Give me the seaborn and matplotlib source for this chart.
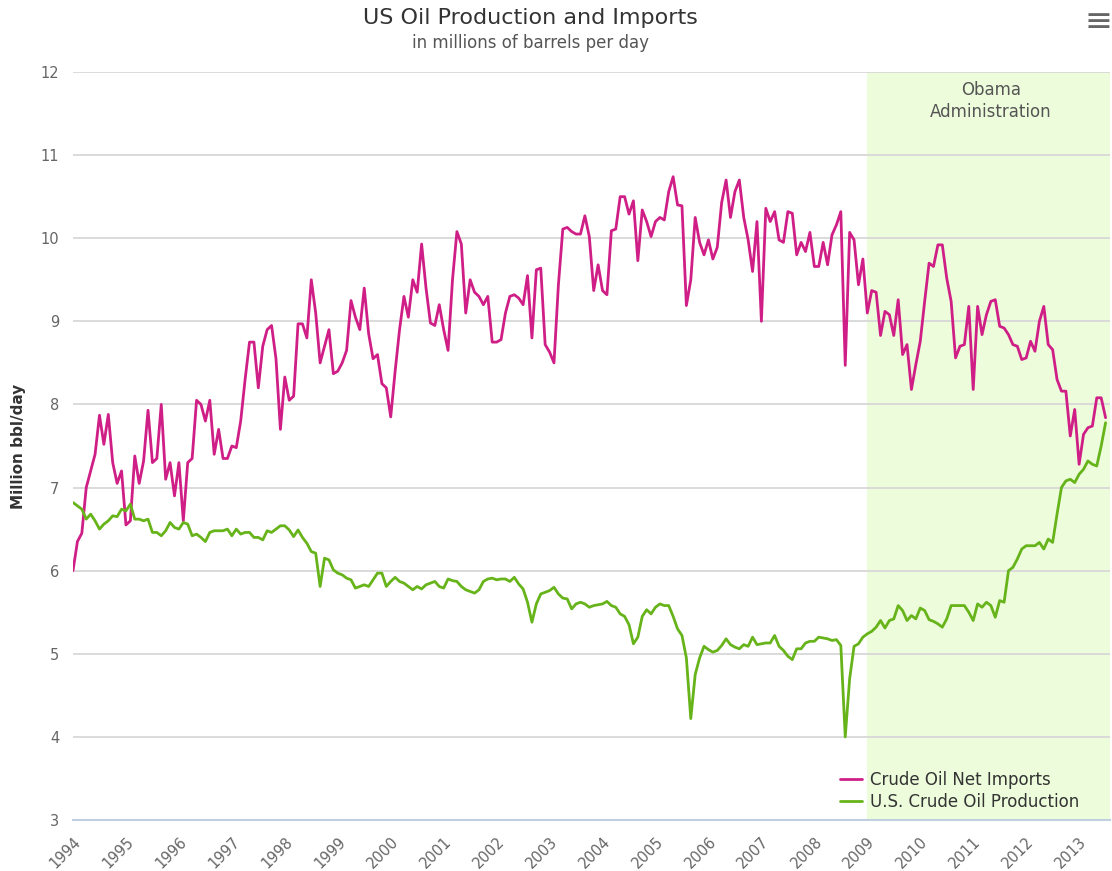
import numpy as np
import pandas as pd
import seaborn as sns
import matplotlib.pyplot as plt

# monthly values, Jan 1994 .. Jul 2013 (one row per year)
net_imports = [
    6.0, 6.35, 6.45, 7.0, 7.2, 7.4, 7.87, 7.52, 7.88, 7.3, 7.05, 7.2,
    6.55, 6.6, 7.38, 7.05, 7.32, 7.93, 7.3, 7.35, 8.0, 7.1, 7.3, 6.9,
    7.3, 6.6, 7.3, 7.35, 8.05, 8.0, 7.8, 8.05, 7.4, 7.7, 7.35, 7.35,
    7.5, 7.48, 7.8, 8.3, 8.75, 8.75, 8.2, 8.7, 8.9, 8.95, 8.55, 7.7,
    8.33, 8.05, 8.1, 8.97, 8.97, 8.8, 9.5, 9.1, 8.5, 8.7, 8.9, 8.37,
    8.4, 8.5, 8.65, 9.25, 9.05, 8.9, 9.4, 8.85, 8.55, 8.6, 8.25, 8.2,
    7.85, 8.4, 8.9, 9.3, 9.05, 9.5, 9.35, 9.93, 9.4, 8.98, 8.95, 9.2,
    8.9, 8.65, 9.5, 10.08, 9.93, 9.1, 9.5, 9.35, 9.3, 9.2, 9.3, 8.75,
    8.75, 8.78, 9.1, 9.3, 9.32, 9.28, 9.2, 9.55, 8.8, 9.62, 9.64, 8.72,
    8.63, 8.5, 9.44, 10.11, 10.13, 10.08, 10.05, 10.05, 10.27, 10.02, 9.37, 9.68,
    9.37, 9.32, 10.09, 10.11, 10.5, 10.5, 10.29, 10.45, 9.73, 10.34, 10.2, 10.02,
    10.2, 10.25, 10.22, 10.56, 10.74, 10.4, 10.39, 9.19, 9.5, 10.25, 9.95, 9.8,
    9.98, 9.75, 9.89, 10.43, 10.7, 10.25, 10.56, 10.7, 10.25, 9.98, 9.6, 10.2,
    9.0, 10.36, 10.2, 10.32, 9.98, 9.95, 10.32, 10.3, 9.8, 9.95, 9.84, 10.07,
    9.66, 9.66, 9.95, 9.68, 10.04, 10.16, 10.32, 8.47, 10.07, 9.98, 9.44, 9.75,
    9.1, 9.37, 9.35, 8.83, 9.12, 9.08, 8.83, 9.26, 8.6, 8.72, 8.18, 8.48,
    8.76, 9.24, 9.7, 9.66, 9.92, 9.92, 9.52, 9.24, 8.56, 8.7, 8.72, 9.18,
    8.18, 9.18, 8.84, 9.08, 9.24, 9.26, 8.94, 8.92, 8.84, 8.72, 8.7, 8.54,
    8.56, 8.76, 8.64, 9.0, 9.18, 8.72, 8.66, 8.3, 8.16, 8.16, 7.62, 7.94,
    7.28, 7.64, 7.72, 7.74, 8.08, 8.08, 7.84,
]

production = [
    6.82, 6.78, 6.74, 6.62, 6.68, 6.6, 6.5, 6.56, 6.6, 6.66, 6.65, 6.74,
    6.72, 6.8, 6.62, 6.62, 6.6, 6.62, 6.46, 6.46, 6.42, 6.48, 6.58, 6.52,
    6.5, 6.58, 6.56, 6.42, 6.44, 6.4, 6.35, 6.46, 6.48, 6.48, 6.48, 6.5,
    6.42, 6.5, 6.44, 6.46, 6.46, 6.4, 6.4, 6.37, 6.48, 6.46, 6.5, 6.54,
    6.54, 6.49, 6.41, 6.49, 6.4, 6.33, 6.23, 6.21, 5.81, 6.15, 6.13, 6.01,
    5.97, 5.95, 5.91, 5.89, 5.79, 5.81, 5.83, 5.81, 5.89, 5.97, 5.97, 5.81,
    5.87, 5.92, 5.87, 5.85, 5.81, 5.77, 5.81, 5.78, 5.83, 5.85, 5.87, 5.81,
    5.79, 5.9, 5.88, 5.87, 5.81, 5.77, 5.75, 5.73, 5.77, 5.87, 5.9, 5.91,
    5.89, 5.9, 5.9, 5.87, 5.92, 5.84, 5.78, 5.62, 5.38, 5.6, 5.72, 5.74,
    5.76, 5.8, 5.72, 5.67, 5.66, 5.54, 5.6, 5.62, 5.6, 5.56, 5.58, 5.59,
    5.6, 5.63, 5.58, 5.56, 5.48, 5.45, 5.35, 5.12, 5.2, 5.45, 5.53, 5.48,
    5.56, 5.6, 5.58, 5.58, 5.45, 5.3, 5.22, 4.95, 4.22, 4.75, 4.95, 5.09,
    5.05, 5.02, 5.04, 5.1, 5.18, 5.11, 5.08, 5.06, 5.11, 5.09, 5.2, 5.11,
    5.12, 5.13, 5.13, 5.22, 5.09, 5.04, 4.97, 4.93, 5.06, 5.06, 5.13, 5.15,
    5.15, 5.2, 5.19, 5.18, 5.16, 5.17, 5.1, 4.0, 4.7, 5.09, 5.12, 5.2,
    5.24, 5.27, 5.32, 5.4, 5.31, 5.4, 5.42, 5.58, 5.52, 5.4, 5.46, 5.42,
    5.55, 5.52, 5.41, 5.39, 5.36, 5.32, 5.42, 5.58, 5.58, 5.58, 5.58, 5.5,
    5.4, 5.6, 5.56, 5.62, 5.58, 5.44, 5.64, 5.62, 6.0, 6.04, 6.14, 6.26,
    6.3, 6.3, 6.3, 6.34, 6.26, 6.38, 6.34, 6.68, 7.0, 7.08, 7.1, 7.06,
    7.16, 7.22, 7.32, 7.28, 7.26, 7.5, 7.78,
]

years = [str(y) for y in range(1994, 2014)]
series_names = ['Crude Oil Net Imports', 'U.S. Crude Oil Production']
obama_start = 2009

months = np.arange(len(net_imports))
df = pd.concat([
    pd.DataFrame({'month': months, 'value': net_imports, 'series': series_names[0]}),
    pd.DataFrame({'month': months, 'value': production, 'series': series_names[1]}),
])

sns.set_style('white')
plt.rcParams['font.family'] = ['DejaVu Sans']

fig = plt.figure(figsize=(11.12, 8.71), dpi=100)
ax = fig.add_axes([73 / 1112, 1 - 820 / 871, (1110 - 73) / 1112, (820 - 72) / 871])

ax.axvspan((obama_start - 1994) * 12, len(net_imports) + 5, color='#edfcdb', zorder=0.1, lw=0)
sns.lineplot(data=df, x='month', y='value', hue='series',
             palette={series_names[0]: '#cf1f87', series_names[1]: '#66b31a'},
             linewidth=2.0, ax=ax)

ax.set_xlim(0, 235)
ax.set_ylim(3, 12)
ax.set_axisbelow(True)
ax.set_yticks(range(3, 13))
ax.grid(axis='y', color='#d8d8d8', lw=1.3)
ax.grid(axis='x', visible=False)
ax.set_xticks(np.arange(0, len(years) * 12, 12))
ax.set_xticklabels(years, rotation=45, ha='right', rotation_mode='anchor')
for s in ['top', 'right', 'left']:
    ax.spines[s].set_visible(False)
ax.spines['bottom'].set_color('#c0d0e0')
ax.spines['bottom'].set_linewidth(1.5)
ax.tick_params(axis='x', direction='out', length=6, width=1, color='#c0d0e0',
               labelcolor='#666666', labelsize=10.5, pad=4)
ax.tick_params(axis='y', length=0, labelcolor='#666666', labelsize=10.5, pad=10)
ax.set_xlabel('')
ax.set_ylabel('Million bbl/day', fontsize=11, fontweight='bold', color='#333333')
ax.yaxis.set_label_coords(-0.045, 0.5)

ax.text(208, 11.65, 'Obama\nAdministration', ha='center', va='center',
        fontsize=12, color='#555555', linespacing=1.3)

ax.legend(loc='lower right', bbox_to_anchor=(0.985, -0.008), frameon=False,
          fontsize=12, handlelength=1.3, handletextpad=0.5, labelspacing=0.25,
          labelcolor='#333333')

fig.text(530 / 1112, 1 - 18 / 871, 'US Oil Production and Imports', ha='center',
         va='center', fontsize=16, color='#333333')
fig.text(530 / 1112, 1 - 43 / 871, 'in millions of barrels per day', ha='center',
         va='center', fontsize=12, color='#555555')
fig.text(1099 / 1112, 1 - 22 / 871, '\u2261', ha='center', va='center',
         fontsize=24, color='#666666')

plt.savefig('out.png', dpi=100)
